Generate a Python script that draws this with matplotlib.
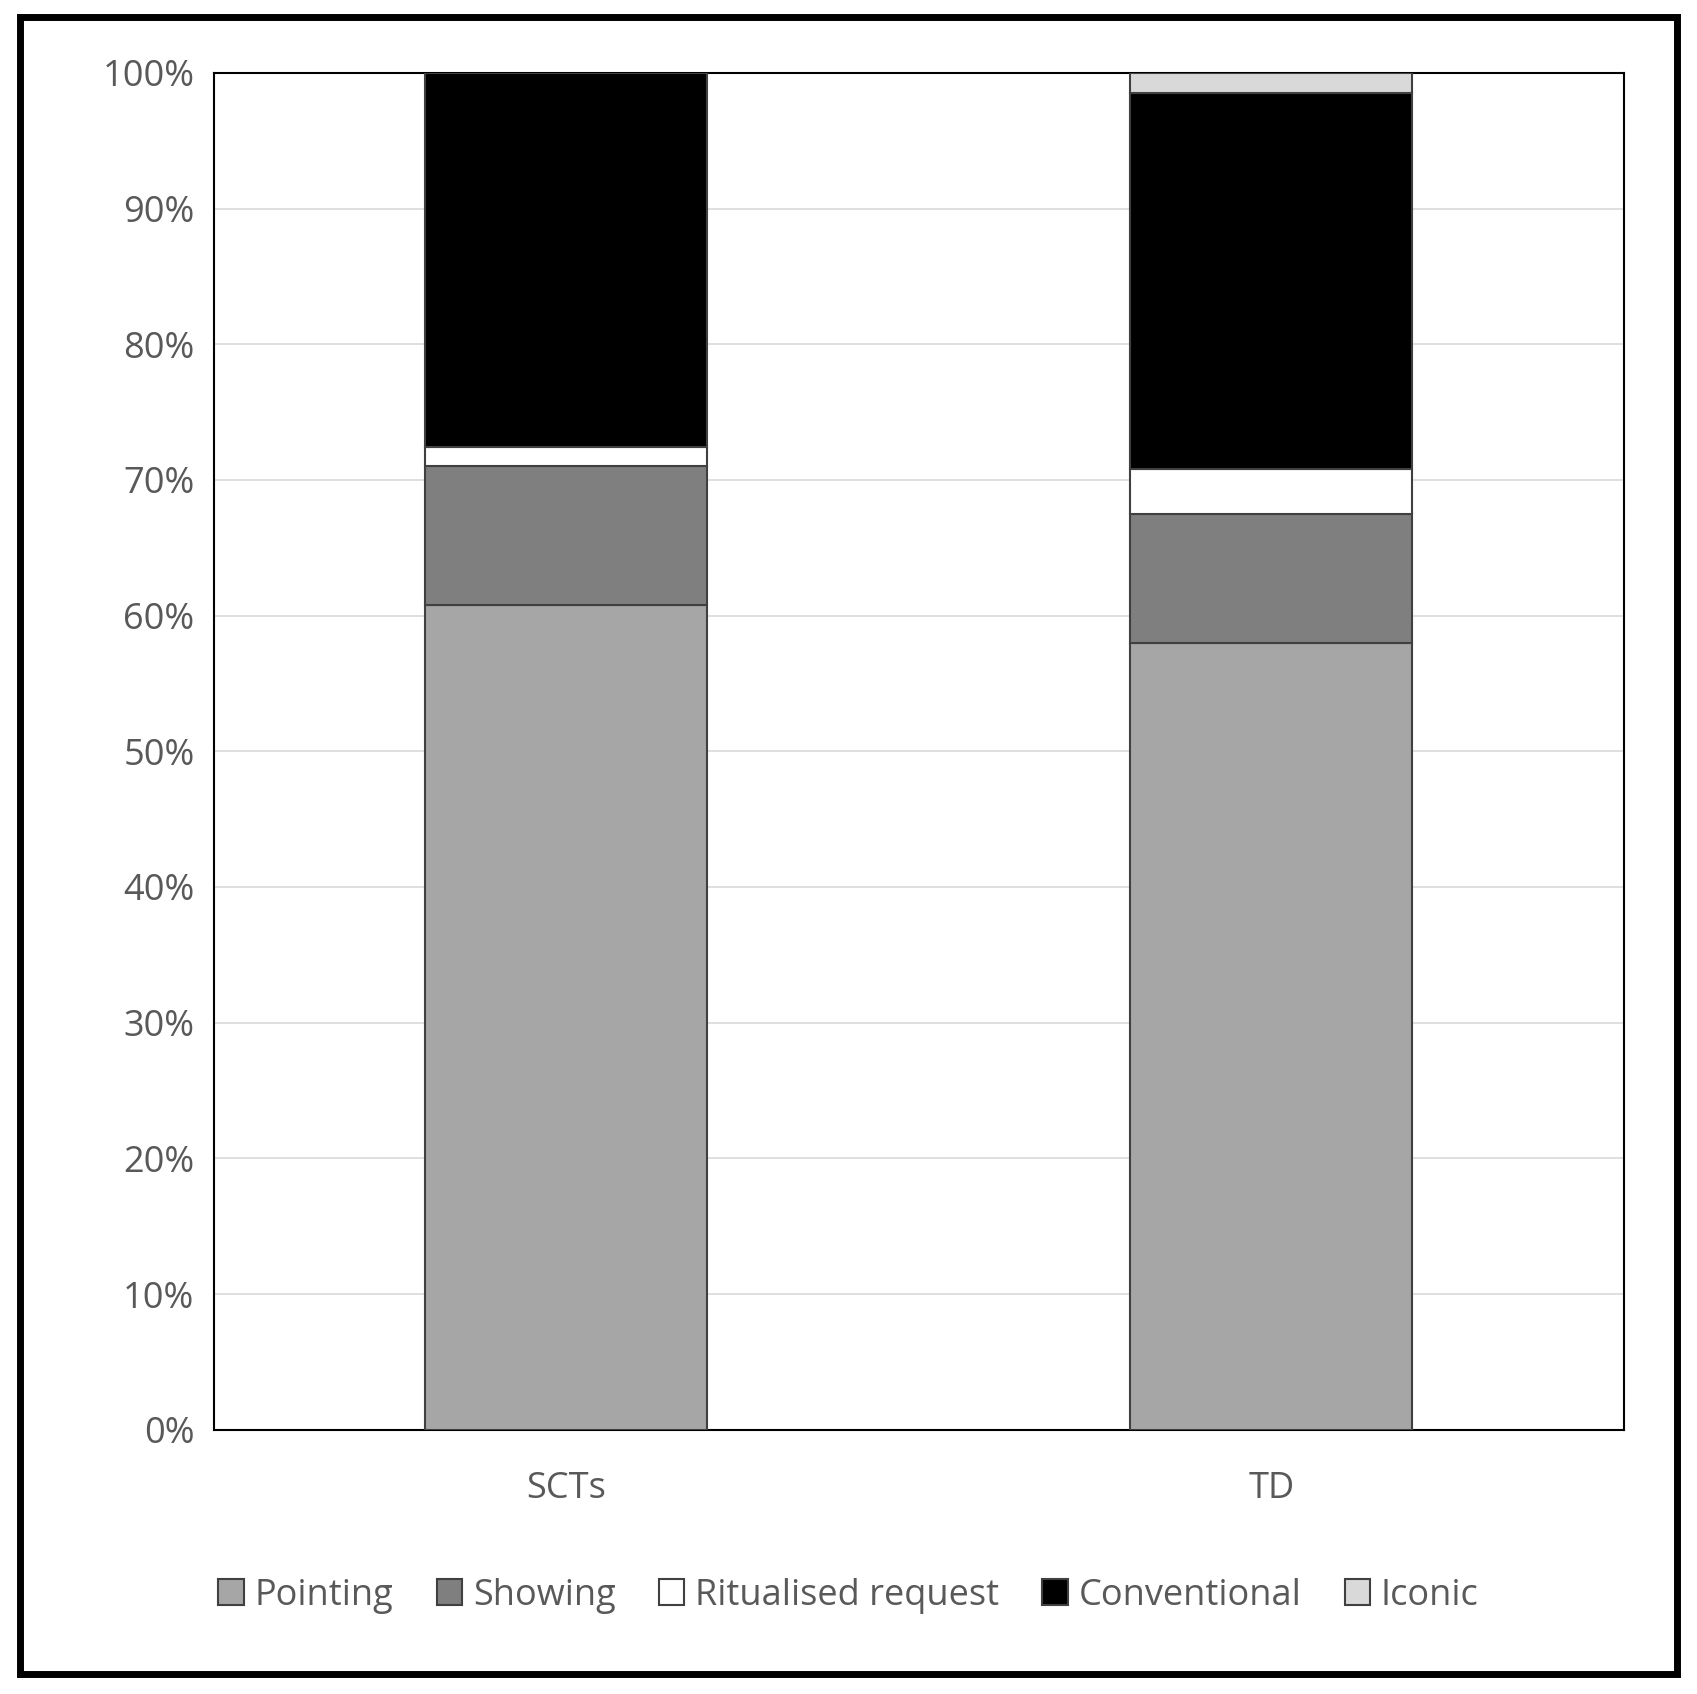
import matplotlib
matplotlib.use("Agg")
import matplotlib.pyplot as plt
from matplotlib.patches import Rectangle
from matplotlib.ticker import FuncFormatter

groups = ["SCTs", "TD"]
categories = ["Pointing", "Showing", "Ritualised request", "Conventional", "Iconic"]
pointing = [60.8, 58.0]
showing = [10.2, 9.5]
ritualised = [1.4, 3.3]
conventional = [27.6, 27.7]
iconic = [0.0, 1.5]
colors = ["#a6a6a6", "#7f7f7f", "#ffffff", "#000000", "#d9d9d9"]

plt.rcParams['font.family'] = ['Open Sans', 'DejaVu Sans']
fig = plt.figure(figsize=(16.97, 16.94), dpi=100)
fig.patches.append(Rectangle((0.012, 0.012), 0.976, 0.978, transform=fig.transFigure,
                             fill=False, edgecolor='black', linewidth=5))
ax = fig.add_axes([0.126, 0.156, 0.831, 0.801])
series = [pointing, showing, ritualised, conventional, iconic]
x = list(range(len(groups)))
bottom = [0.0, 0.0]
handles = []
for name, vals, c in zip(categories, series, colors):
    b = ax.bar(x, vals, width=0.4, bottom=bottom, color=c, edgecolor='#404040',
               linewidth=1.5, label=name, zorder=3)
    handles.append(b)
    bottom = [bo + v for bo, v in zip(bottom, vals)]
ax.set_xlim(-0.5, 1.5)
ax.set_ylim(0, 100)
ax.set_yticks(range(0, 101, 10))
ax.yaxis.set_major_formatter(FuncFormatter(lambda v, p: f"{int(v)}%"))
ax.set_xticks(x)
ax.set_xticklabels(groups)
ax.tick_params(axis='both', length=0, labelsize=26, colors='#595959', pad=14)
ax.tick_params(axis='x', pad=30)
ax.grid(axis='y', color='#d9d9d9', linewidth=1.2, zorder=0)
for s in ax.spines.values():
    s.set_color('black')
    s.set_linewidth(1.5)
leg = fig.legend(handles, categories, loc='center', bbox_to_anchor=(0.5, 0.058), ncol=5,
                 frameon=False, fontsize=26, handlelength=0.7, handleheight=0.7,
                 handletextpad=0.3, columnspacing=1.2)
for t in leg.get_texts():
    t.set_color('#595959')
fig.savefig("out.png", dpi=100)
